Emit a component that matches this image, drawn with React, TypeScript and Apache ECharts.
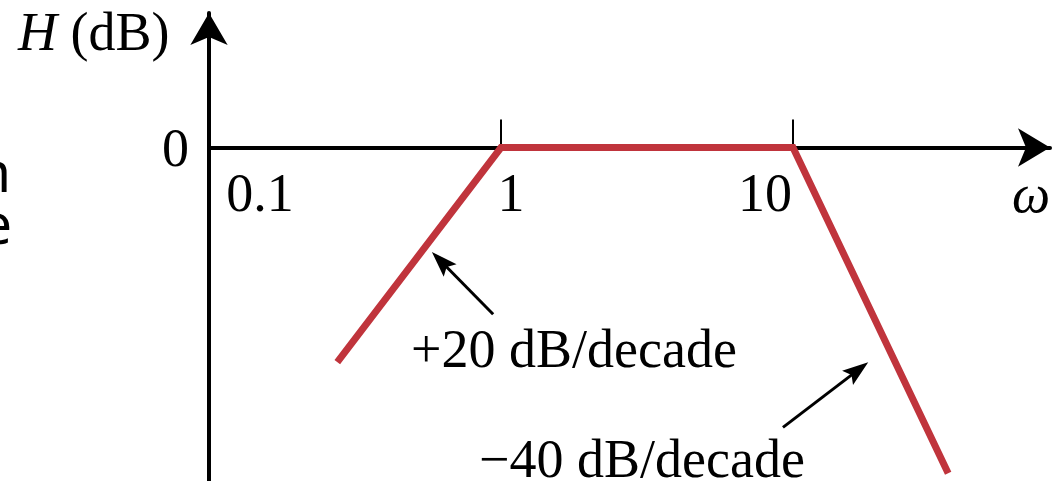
import { useEffect, useRef } from "react";
import * as echarts from "echarts";

// Straight-line (asymptotic) magnitude plot of a band-pass response
const omega = [0.275, 1, 10, 34];
const magnitudeDb = [-11.2, 0, 0, -17];

// Frequency axis: tick marks and labelled decades
const xTickValues = [1, 10];
const xLabelValues = [0.1, 1, 10];

// Slope annotations and the pointers that link them to the curve
const slopeLabels = ["+20 dB/decade", "\u221240 dB/decade"];
const pointerTails = [
  [0.94, -8.7],
  [9.24, -14.6],
];
const pointerTips = [
  [0.58, -5.45],
  [18.1, -11.2],
];

const SERIF = '"Liberation Serif", "Times New Roman", serif';
const SANS = '"Noto Sans", "Open Sans", sans-serif';
const RED = "#C0343C";
const FS = 54;

const GRID_TOP = 13;
const GRID_H = 468;
const Y_MIN = -17.4;
const Y_MAX = 7.02;
const X_MIN = 0.1;
const X_MAX = 75.9;
// distance from the grid's bottom edge up to the 0 dB line
const ZERO_FROM_BOTTOM = (GRID_H * (0 - Y_MIN)) / (Y_MAX - Y_MIN);

export default function App() {
  const ref = useRef<HTMLDivElement>(null);

  useEffect(() => {
    const chart = echarts.init(ref.current!, undefined, { renderer: "svg" });

    // per-label nudges so each decade label sits where the figure puts it
    const labelPads = [
      [0, 0, 0, 102],
      [0, 0, 0, 20],
      [0, 56, 0, 0],
    ];
    const rich: Record<string, any> = {};
    labelPads.forEach((p, i) => {
      rich["t" + i] = {
        padding: p,
        fontFamily: SERIF,
        fontSize: FS,
        color: "#000",
      };
    });

    chart.setOption({
      animation: false,
      grid: {
        left: 209,
        top: GRID_TOP,
        width: 841,
        height: GRID_H,
        containLabel: false,
        outerBoundsMode: "none",
      },
      xAxis: {
        type: "log",
        logBase: 10,
        min: X_MIN,
        max: X_MAX,
        position: "bottom",
        offset: -ZERO_FROM_BOTTOM,
        axisLine: {
          show: true,
          onZero: false,
          symbol: ["none", "arrow"],
          symbolSize: [29, 32],
          lineStyle: { color: "#000", width: 4 },
        },
        axisTick: {
          show: true,
          inside: true,
          length: 28,
          customValues: xTickValues,
          lineStyle: { color: "#000", width: 2 },
        },
        axisLabel: {
          show: true,
          margin: 18,
          customValues: xLabelValues,
          showMinLabel: true,
          hideOverlap: false,
          fontFamily: SERIF,
          fontSize: FS,
          color: "#000",
          formatter: (v: number) => {
            const idx = xLabelValues.findIndex(
              (t) => Math.abs(Math.log10(t) - Math.log10(v)) < 1e-6
            );
            if (idx < 0) return "";
            return "{t" + idx + "|" + String(xLabelValues[idx]) + "}";
          },
          rich,
        },
        splitLine: { show: false },
      },
      yAxis: {
        type: "value",
        min: Y_MIN,
        max: Y_MAX,
        axisLine: {
          show: true,
          onZero: false,
          symbol: ["none", "arrow"],
          symbolSize: [28, 32],
          lineStyle: { color: "#000", width: 4 },
        },
        axisTick: { show: false },
        axisLabel: {
          show: true,
          margin: 20,
          fontFamily: SERIF,
          fontSize: FS,
          color: "#000",
          showMinLabel: true,
          showMaxLabel: true,
          formatter: (v: number) => (Math.abs(v) < 1e-9 ? "0" : ""),
        },
        splitLine: { show: false },
      },
      series: [
        {
          type: "line",
          data: omega.map((w, i) => [w, magnitudeDb[i]]),
          symbol: "none",
          lineStyle: { color: RED, width: 7, cap: "butt", join: "miter" },
          clip: false,
          z: 5,
        },
      ],
    });

    // pointer arrows, placed from data coordinates
    const toPx = (p: number[]) =>
      chart.convertToPixel({ gridIndex: 0 }, p) as number[];
    const arrowGraphics: any[] = [];
    pointerTails.forEach((tailD, i) => {
      const s = toPx(tailD);
      const t = toPx(pointerTips[i]);
      const dx = t[0] - s[0];
      const dy = t[1] - s[1];
      const len = Math.hypot(dx, dy);
      const ux = dx / len;
      const uy = dy / len;
      const nx = -uy;
      const ny = ux;
      const headLen = 26;
      const halfW = 9;
      const bx = t[0] - ux * headLen;
      const by = t[1] - uy * headLen;
      arrowGraphics.push({
        type: "line",
        shape: { x1: s[0], y1: s[1], x2: bx + ux * 6, y2: by + uy * 6 },
        style: { stroke: "#000", lineWidth: 3 },
        z: 10,
      });
      arrowGraphics.push({
        type: "polygon",
        shape: {
          points: [
            [t[0], t[1]],
            [bx + nx * halfW, by + ny * halfW],
            [bx + ux * 5, by + uy * 5],
            [bx - nx * halfW, by - ny * halfW],
          ],
        },
        style: { fill: "#000" },
        z: 10,
      });
    });

    const textBase = { fontFamily: SERIF, fontSize: FS, fill: "#000" };

    chart.setOption({
      graphic: [
        ...arrowGraphics,
        {
          type: "text",
          x: 18,
          y: 32,
          style: {
            ...textBase,
            text: "{i|H} (dB)",
            rich: {
              i: { fontFamily: SERIF, fontSize: FS, fontStyle: "italic", fill: "#000" },
            },
            align: "left",
            verticalAlign: "middle",
          },
        },
        {
          type: "text",
          x: 1012,
          y: 194,
          style: {
            ...textBase,
            text: "\u03c9",
            fontStyle: "italic",
            align: "left",
            verticalAlign: "middle",
          },
        },
        {
          type: "text",
          x: 411,
          y: 349,
          style: { ...textBase, text: slopeLabels[0], align: "left", verticalAlign: "middle" },
        },
        {
          type: "text",
          x: 479,
          y: 459,
          style: { ...textBase, text: slopeLabels[1], align: "left", verticalAlign: "middle" },
        },
        {
          type: "text",
          x: 11,
          y: 170,
          style: {
            fontFamily: SANS,
            fontSize: 56,
            fill: "#000",
            text: "n",
            align: "right",
            verticalAlign: "middle",
          },
        },
        {
          type: "text",
          x: 12,
          y: 222,
          style: {
            fontFamily: SANS,
            fontSize: 56,
            fill: "#000",
            text: "e",
            align: "right",
            verticalAlign: "middle",
          },
        },
      ],
    });

    return () => chart.dispose();
  }, []);

  return (
    <div
      ref={ref}
      style={{
        position: "fixed",
        left: 0,
        top: 0,
        width: 1052,
        height: 481,
        background: "#fff",
      }}
    />
  );
}
